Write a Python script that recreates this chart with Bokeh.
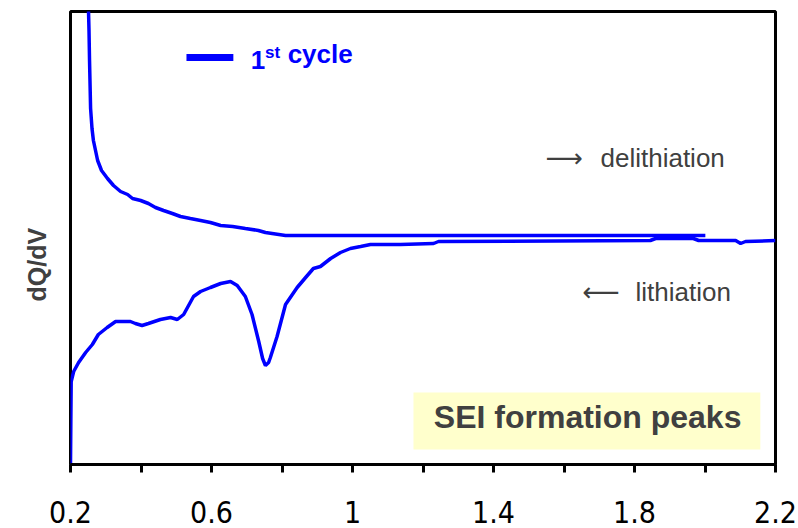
from bokeh.plotting import figure
from bokeh.models import Range1d, FixedTicker, Label, BoxAnnotation, Title
from bokeh.embed import file_html
from bokeh.resources import INLINE

# Delithiation branch (upper curve), voltage in V, dQ/dV arbitrary units
deli_v = [0.250, 0.2525, 0.254, 0.257, 0.261, 0.265, 0.277, 0.288, 0.305, 0.322,
          0.342, 0.362, 0.376, 0.399, 0.421, 0.441, 0.464, 0.489, 0.512, 0.540,
          0.569, 0.597, 0.626, 0.660, 0.696, 0.733, 0.753, 0.810, 2.001]
deli_q = [469, 434, 404, 356, 336, 324, 304, 294, 286, 279,
          273, 270, 266, 264, 261, 257, 254, 251, 248, 246,
          244, 242, 239, 238, 236, 234, 232, 229, 229]

# Lithiation branch (lower curve)
lith_v = [0.200, 0.201, 0.202, 0.209, 0.223, 0.243, 0.262, 0.279, 0.304, 0.328,
          0.370, 0.384, 0.403, 0.421, 0.455, 0.484, 0.503, 0.521, 0.549, 0.569,
          0.597, 0.626, 0.654, 0.673, 0.696, 0.715, 0.734, 0.745, 0.753, 0.762,
          0.767, 0.786, 0.810, 0.843, 0.867, 0.889, 0.909, 0.938, 0.966, 0.994,
          1.023, 1.051, 1.136, 1.230, 1.244, 1.845, 1.860, 1.967, 1.982, 2.087,
          2.101, 2.115, 2.200]
lith_q = [0, 44, 83, 93, 102, 112, 120, 130, 137, 143,
          143, 141, 139, 141, 145, 147, 145, 150, 168, 173,
          177, 181, 183, 179, 168, 150, 123, 106, 99, 102,
          107, 128, 160, 177, 187, 196, 198, 206, 212, 216,
          218, 220, 220, 221, 223, 224, 226, 226, 224, 224,
          221, 223, 224]

x_ticks = [0.2, 0.4, 0.6, 0.8, 1.0, 1.2, 1.4, 1.6, 1.8, 2.0, 2.2]
x_tick_labels = {0.2: "0.2", 0.4: "", 0.6: "0.6", 0.8: "", 1.0: "1", 1.2: "",
                 1.4: "1.4", 1.6: "", 1.8: "1.8", 2.0: "", 2.2: "2.2"}

BLUE = "#0000ff"
GRAY = "#404040"

p = figure(width=798, height=528, output_backend="svg", toolbar_location=None,
           x_range=Range1d(0.2, 2.2), y_range=Range1d(0, 453),
           min_border_left=70, min_border_right=23, min_border_top=11,
           min_border_bottom=64)
p.grid.visible = False
p.yaxis.visible = False
p.outline_line_color = "black"
p.outline_line_width = 3
p.outline_line_alpha = 1

ax = p.xaxis[0]
ax.ticker = FixedTicker(ticks=x_ticks)
ax.major_label_overrides = x_tick_labels
ax.minor_tick_line_color = None
ax.major_tick_in = 0
ax.major_tick_out = 8
ax.major_tick_line_width = 3
ax.axis_line_width = 3
ax.major_label_text_font = "DejaVu Sans Condensed"
ax.major_label_text_font_size = "30px"
ax.major_label_text_color = "black"
ax.major_label_standoff = 28

p.line(deli_v, deli_q, line_color=BLUE, line_width=3.5)
p.line(lith_v, lith_q, line_color=BLUE, line_width=3.5)

# Legend-like marker
p.line([0.529, 0.662], [407, 407], line_color=BLUE, line_width=7)
p.add_layout(Label(x=0.711, y=396, text="1", text_font="Liberation Sans",
                   text_font_style="bold", text_font_size="26px", text_color=BLUE))
p.add_layout(Label(x=0.752, y=403, text="st", text_font="Liberation Sans",
                   text_font_style="bold", text_font_size="17px", text_color=BLUE))
p.add_layout(Label(x=0.816, y=396, text="cycle", text_font="Liberation Sans",
                   text_font_style="bold", text_font_size="26px", text_color=BLUE))

# direction annotations
p.add_layout(Label(x=1.5475, y=292, text="⟶", text_font="DejaVu Sans",
                   text_font_size="26px", text_color=GRAY))
p.add_layout(Label(x=1.7035, y=292, text="delithiation", text_font="Liberation Sans",
                   text_font_size="26px", text_color=GRAY))
p.add_layout(Label(x=1.652, y=158, text="⟵", text_font="DejaVu Sans",
                   text_font_size="26px", text_color=GRAY))
p.add_layout(Label(x=1.8028, y=158, text="lithiation", text_font="Liberation Sans",
                   text_font_size="26px", text_color=GRAY))

# SEI box
p.add_layout(BoxAnnotation(left=1.173, right=2.157, bottom=15, top=72,
                           fill_color="#ffffcc", fill_alpha=1, line_color=None))
p.add_layout(Label(x=1.667, y=30, text="SEI formation peaks", text_align="center",
                   text_font="Liberation Sans", text_font_style="bold",
                   text_font_size="32px", text_color=GRAY))

# y-axis title
p.add_layout(Title(text="dQ/dV", align="left", offset=163, standoff=40,
                   text_font="Liberation Sans", text_font_style="bold",
                   text_font_size="25px", text_color=GRAY), "left")

open("out.html", "w").write(file_html(p, INLINE))
